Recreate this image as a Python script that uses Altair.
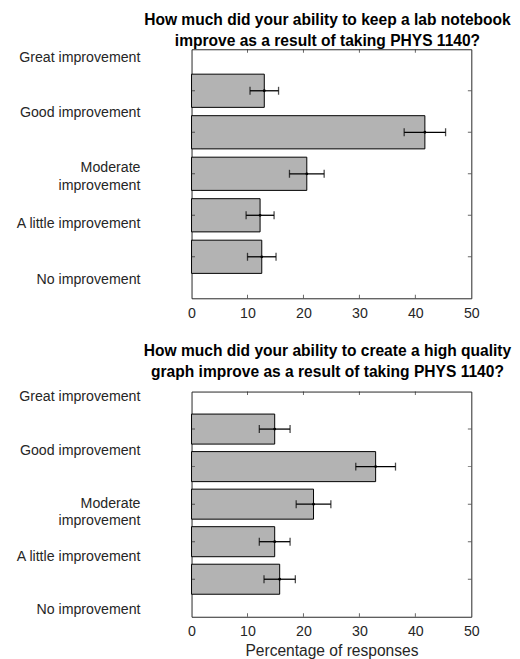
import altair as alt
import pandas as pd

# ---- data ----
categories = ["Great improvement", "Good improvement", "Moderate improvement",
              "A little improvement", "No improvement"]
category_lines = [["Great improvement"], ["Good improvement"], ["Moderate", "improvement"],
                  ["A little improvement"], ["No improvement"]]
bar_pos = [1, 2, 3, 4, 5]

notebook_pct = [13.0, 41.7, 20.6, 12.25, 12.55]
notebook_err = [2.55, 3.7, 3.1, 2.5, 2.55]

graph_pct = [14.86, 32.9, 21.8, 14.86, 15.75]
graph_err = [2.75, 3.55, 3.1, 2.75, 2.8]

notebook_label_pos = [0.19, 1.53, 2.86, 4.19, 5.54]
graph_label_pos = [0.13, 1.56, 2.98, 4.39, 5.82]

x_ticks = [0, 10, 20, 30, 40, 50]

notebook_title = ["How much did your ability to keep a lab notebook",
                  "improve as a result of taking PHYS 1140?"]
graph_title = ["How much did your ability to create a high quality",
               "graph improve as a result of taking PHYS 1140?"]
x_title = "Percentage of responses"

FONT = "Liberation Sans"
INK = "#262626"


def label_expr(positions):
    parts = []
    for p, lines in zip(positions, category_lines):
        lab = "[" + ", ".join("'" + s + "'" for s in lines) + "]" if len(lines) > 1 else "'" + lines[0] + "'"
        parts.append(f"datum.value == {p} ? {lab} : ")
    return "".join(parts) + "''"


def panel(pct, err, label_pos, title_lines, height, xtitle, title_offset):
    df = pd.DataFrame({"cat": categories, "pos": bar_pos, "pct": pct, "err": err})
    xscale = alt.Scale(domain=[0, 50], nice=False, zero=False)
    yscale = alt.Scale(domain=[0, 6], reverse=True, nice=False, zero=False)
    xaxis_kw = dict(values=x_ticks, tickSize=0, domain=False, grid=False, labelPadding=8,
                    labelFlush=False, labelFontSize=14.3, labelColor=INK, labelFont=FONT)
    if xtitle:
        xaxis = alt.Axis(title=xtitle, titleFontSize=15.7, titleFontWeight="normal",
                         titleColor=INK, titleFont=FONT, titlePadding=5, **xaxis_kw)
    else:
        xaxis = alt.Axis(title=None, **xaxis_kw)
    yaxis = alt.Axis(values=label_pos, labelExpr=label_expr(label_pos), tickSize=0,
                     domain=False, grid=False, labelPadding=52, labelOverlap=False,
                     labelFlush=False, labelFontSize=14.3, labelLineHeight=17.7,
                     labelColor=INK, labelFont=FONT, title=None)

    base = alt.Chart(df).transform_calculate(
        lo="datum.pct - datum.err", hi="datum.pct + datum.err",
        y0="datum.pos - 0.4", y1="datum.pos + 0.4", zero="0")

    bars = base.mark_rect(fill="#b3b3b3", stroke="black", strokeWidth=1).encode(
        x=alt.X("zero:Q", scale=xscale, axis=xaxis), x2="pct:Q",
        y=alt.Y("y0:Q", scale=yscale, axis=yaxis), y2="y1:Q")

    err_line = base.mark_rule(color="black", strokeWidth=1.3).encode(
        x=alt.X("lo:Q", scale=xscale, axis=xaxis), x2="hi:Q",
        y=alt.Y("pos:Q", scale=yscale, axis=yaxis))

    caps = base.transform_fold(["lo", "hi"], as_=["end", "v"]).mark_tick(
        orient="vertical", size=8, thickness=1.3, color="black").encode(
        x=alt.X("v:Q", scale=xscale, axis=xaxis),
        y=alt.Y("pos:Q", scale=yscale, axis=yaxis))

    dots = base.mark_point(filled=True, size=8, color="black", opacity=1).encode(
        x=alt.X("pct:Q", scale=xscale, axis=xaxis),
        y=alt.Y("pos:Q", scale=yscale, axis=yaxis))

    ytick_df = pd.DataFrame([{"pos": p, "edge": e} for p in bar_pos for e in (x_ticks[0], x_ticks[-1])])
    yticks = alt.Chart(ytick_df).mark_tick(orient="horizontal", size=7, thickness=1,
                                           color=INK, clip=True).encode(
        x=alt.X("edge:Q", scale=xscale, axis=xaxis),
        y=alt.Y("pos:Q", scale=yscale, axis=yaxis))

    xtick_df = pd.DataFrame([{"xv": v, "edge": e} for v in x_ticks[1:-1] for e in (0, 6)])
    xticks = alt.Chart(xtick_df).mark_tick(orient="vertical", size=7, thickness=1,
                                           color=INK, clip=True).encode(
        x=alt.X("xv:Q", scale=xscale, axis=xaxis),
        y=alt.Y("edge:Q", scale=yscale, axis=yaxis))

    return alt.layer(bars, err_line, caps, dots, yticks, xticks).properties(
        width=282, height=height,
        title=alt.TitleParams(text=title_lines, fontSize=15.7, fontWeight="bold", font=FONT,
                              anchor="middle", dx=-4, offset=title_offset, lineHeight=21,
                              color="black"))


top = panel(notebook_pct, notebook_err, notebook_label_pos, notebook_title, 251, None, 0)
bottom = panel(graph_pct, graph_err, graph_label_pos, graph_title, 227, x_title, 9)

chart = alt.vconcat(top, bottom, spacing=21).properties(
    padding={"left": 6, "top": 0, "right": 0, "bottom": 0}
).configure_view(stroke=INK, strokeWidth=1)

chart.save("out.html", embed_options={"renderer": "svg", "actions": False})
